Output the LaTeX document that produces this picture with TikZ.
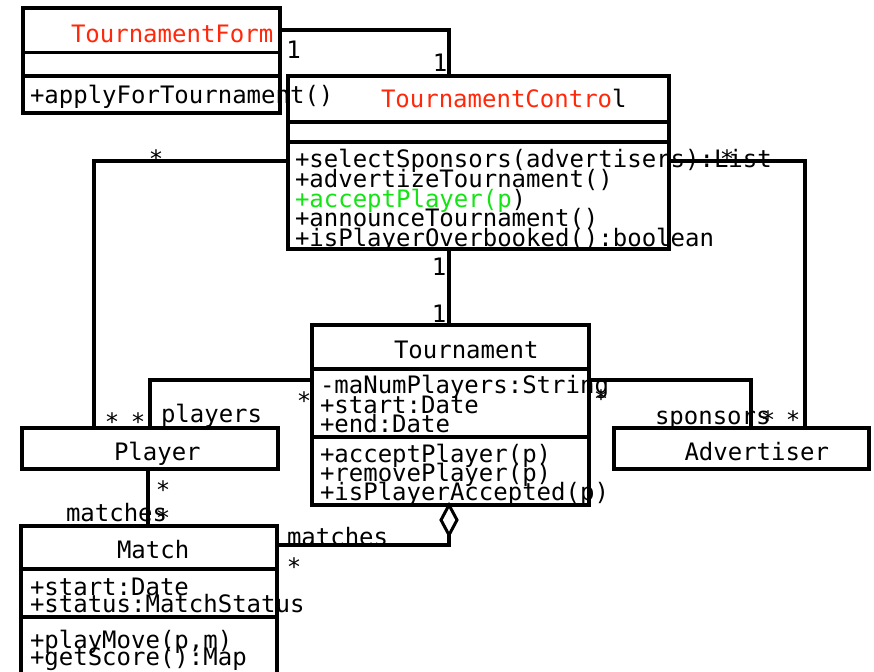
\documentclass[tikz,border=0pt]{standalone}
\usepackage{fontspec}
\newfontfamily\umlmono{DejaVu Sans Mono}
\definecolor{namered}{RGB}{255,40,10}
\definecolor{opgreen}{RGB}{20,228,20}
\begin{document}
\begin{tikzpicture}[x=1bp,y=-1bp,
  umltext/.style={inner sep=0pt, outer sep=0pt, anchor=base west,
    font=\umlmono\fontsize{24bp}{24bp}\selectfont},
  multlabel/.style={umltext, anchor=base},
  classbox/.style={draw=black, fill=white, line width=3.6bp, inner sep=0pt,
    outer sep=0pt, anchor=north west},
  compline/.style={line width=3.6bp},
  assoc/.style={line width=3.6bp, line join=miter},
  aggdiamond/.style={line width=3bp, fill=white, line join=miter}]
\useasboundingbox (0,0) rectangle (874,672);
\clip (0,0) rectangle (874,672);

% ---------- class outlines (named, drawn later on top) ----------
\path node[classbox, draw=none, fill=none, minimum width=257bp, minimum height=105bp] (tf) at (23,8) {}
      node[classbox, draw=none, fill=none, minimum width=381bp, minimum height=173bp] (tc) at (288,76) {}
      node[classbox, draw=none, fill=none, minimum width=277bp, minimum height=180bp] (tour) at (312,325) {}
      node[classbox, draw=none, fill=none, minimum width=256bp, minimum height=41bp] (player) at (22,428) {}
      node[classbox, draw=none, fill=none, minimum width=255bp, minimum height=41bp] (adv) at (614,428) {}
      node[classbox, draw=none, fill=none, minimum width=256bp, minimum height=150bp] (match) at (21,526) {};

% ---------- associations ----------
\draw[assoc] ([yshift=-22bp]tf.north east) -| ([xshift=161bp]tc.north west);
\draw[assoc] ([xshift=161bp]tc.south west) -- ([xshift=137bp]tour.north west);
\draw[assoc] ([yshift=-85bp]tc.north west) -| ([xshift=72bp]player.north west);
\draw[assoc] ([yshift=-85bp]tc.north east) -| ([xshift=191bp]adv.north west);
\draw[assoc] ([yshift=-55bp]tour.north west) -| ([xshift=128bp]player.north west);
\draw[assoc] ([yshift=-55bp]tour.north east) -| ([xshift=137bp]adv.north west);
\draw[assoc] ([xshift=126bp]player.south west) coordinate (pm) -- (pm |- match.north);
\draw[assoc] ([xshift=137bp,yshift=-30bp]tour.south west) |- ([yshift=-19bp]match.north east);

% ---------- role names and multiplicities ----------
\node[multlabel] (m1) at (293.5,59) {1};
\node[multlabel] (m2) at (440,72) {1};
\node[multlabel] (m3) at (439,275) {1};
\node[multlabel] (m4) at (439,322) {1};
\node[multlabel] (s1) at (156,168) {*};
\node[multlabel] (s2) at (112,430) {*};
\node[multlabel] (s3) at (138,430) {*};
\node[multlabel] (s4) at (304,409) {*};
\node[multlabel] (s5) at (727,168) {*};
\node[multlabel] (s6) at (793,428) {*};
\node[multlabel] (s7) at (768,428) {*};
\node[multlabel] (s8) at (601,407) {*};
\node[multlabel] (s9) at (163,498) {*};
\node[multlabel] (s10) at (163,526) {*};
\node[multlabel] (s11) at (294,575) {*};
\node[umltext] (rplayers) at (161,422) {players};
\node[umltext] (rsponsors) at (655,424) {sponsors};
\node[umltext] (rmatches1) at (66,521) {matches};
\node[umltext] (rmatches2) at (287,545) {matches};

% ---------- TournamentControl ----------
\node[classbox, minimum width=381bp, minimum height=173bp] (tcbox) at (288,76) {};
\node[umltext] (tcname) at (381,108) {\textcolor{namered}{TournamentContro}l};
\node[umltext] (tcop1) at (295,168) {+selectSponsors(advertisers):List};
\node[umltext] (tcop2) at (295,187.5) {+advertizeTournament()};
\node[umltext] (tcop3) at (295,207) {\textcolor{opgreen}{+acceptPlayer(p}\/)};
\node[umltext] (tcop4) at (295,226.5) {+announceTournament()};
\node[umltext] (tcop5) at (295,246) {+isPlayerOverbooked():boolean};
\draw[compline] (tc.west |- 0,122) -- (tc.east |- 0,122);
\draw[compline] (tc.west |- 0,142) -- (tc.east |- 0,142);
\node[classbox, fill=none, minimum width=381bp, minimum height=173bp] (tcedge) at (288,76) {};

% ---------- TournamentForm ----------
\node[classbox, minimum width=257bp, minimum height=105bp] (tfbox) at (23,8) {};
\node[umltext, text=namered] (tfname) at (71,42.7) {TournamentForm};
\node[umltext] (tfop1) at (30,104) {+applyForTournament()};
\draw[compline] (tf.west |- 0,52.5) -- (tf.east |- 0,52.5);
\draw[compline] (tf.west |- 0,76) -- (tf.east |- 0,76);
\node[classbox, fill=none, minimum width=257bp, minimum height=105bp] (tfedge) at (23,8) {};

% ---------- Tournament ----------
\node[classbox, minimum width=277bp, minimum height=180bp] (tourbox) at (312,325) {};
\node[umltext] (tourname) at (394,358) {Tournament};
\node[umltext] (tourat1) at (320,393.7) {-maNumPlayers:String};
\node[umltext] (tourat2) at (320,413) {+start:Date};
\node[umltext] (tourat3) at (320,432) {+end:Date};
\node[umltext] (tourop1) at (320,462.5) {+acceptPlayer(p)};
\node[umltext] (tourop2) at (320,481.3) {+removePlayer(p)};
\node[umltext] (tourop3) at (320,500) {+isPlayerAccepted(p)};
\draw[compline] (tour.west |- 0,369) -- (tour.east |- 0,369);
\draw[compline] (tour.west |- 0,437) -- (tour.east |- 0,437);
\node[classbox, fill=none, minimum width=277bp, minimum height=180bp] (touredge) at (312,325) {};

% ---------- Player ----------
\node[classbox, minimum width=256bp, minimum height=41bp] (playerbox) at (22,428) {};
\node[umltext] (playername) at (114,460) {Player};

% ---------- Advertiser ----------
\node[classbox, minimum width=255bp, minimum height=41bp] (advbox) at (614,428) {};
\node[umltext] (advname) at (684.5,460) {Advertiser};

% ---------- Match ----------
\node[classbox, minimum width=256bp, minimum height=150bp] (matchbox) at (21,526) {};
\node[umltext] (matchname) at (117,558.3) {Match};
\node[umltext] (matchat1) at (30,595) {+start:Date};
\node[umltext] (matchat2) at (30,612.7) {+status:MatchStatus};
\node[umltext] (matchop1) at (30,648.3) {+playMove(p,m)};
\node[umltext] (matchop2) at (30,665) {+getScore():Map};
\draw[compline] (match.west |- 0,569) -- (match.east |- 0,569);
\draw[compline] (match.west |- 0,617) -- (match.east |- 0,617);
\node[classbox, fill=none, minimum width=256bp, minimum height=150bp] (matchedge) at (21,526) {};

% ---------- aggregation diamond ----------
\draw[aggdiamond] ([xshift=137bp]tour.south west) -- ++(8,15) -- ++(-8,15) -- ++(-8,-15) -- cycle;
\end{tikzpicture}
\end{document}
